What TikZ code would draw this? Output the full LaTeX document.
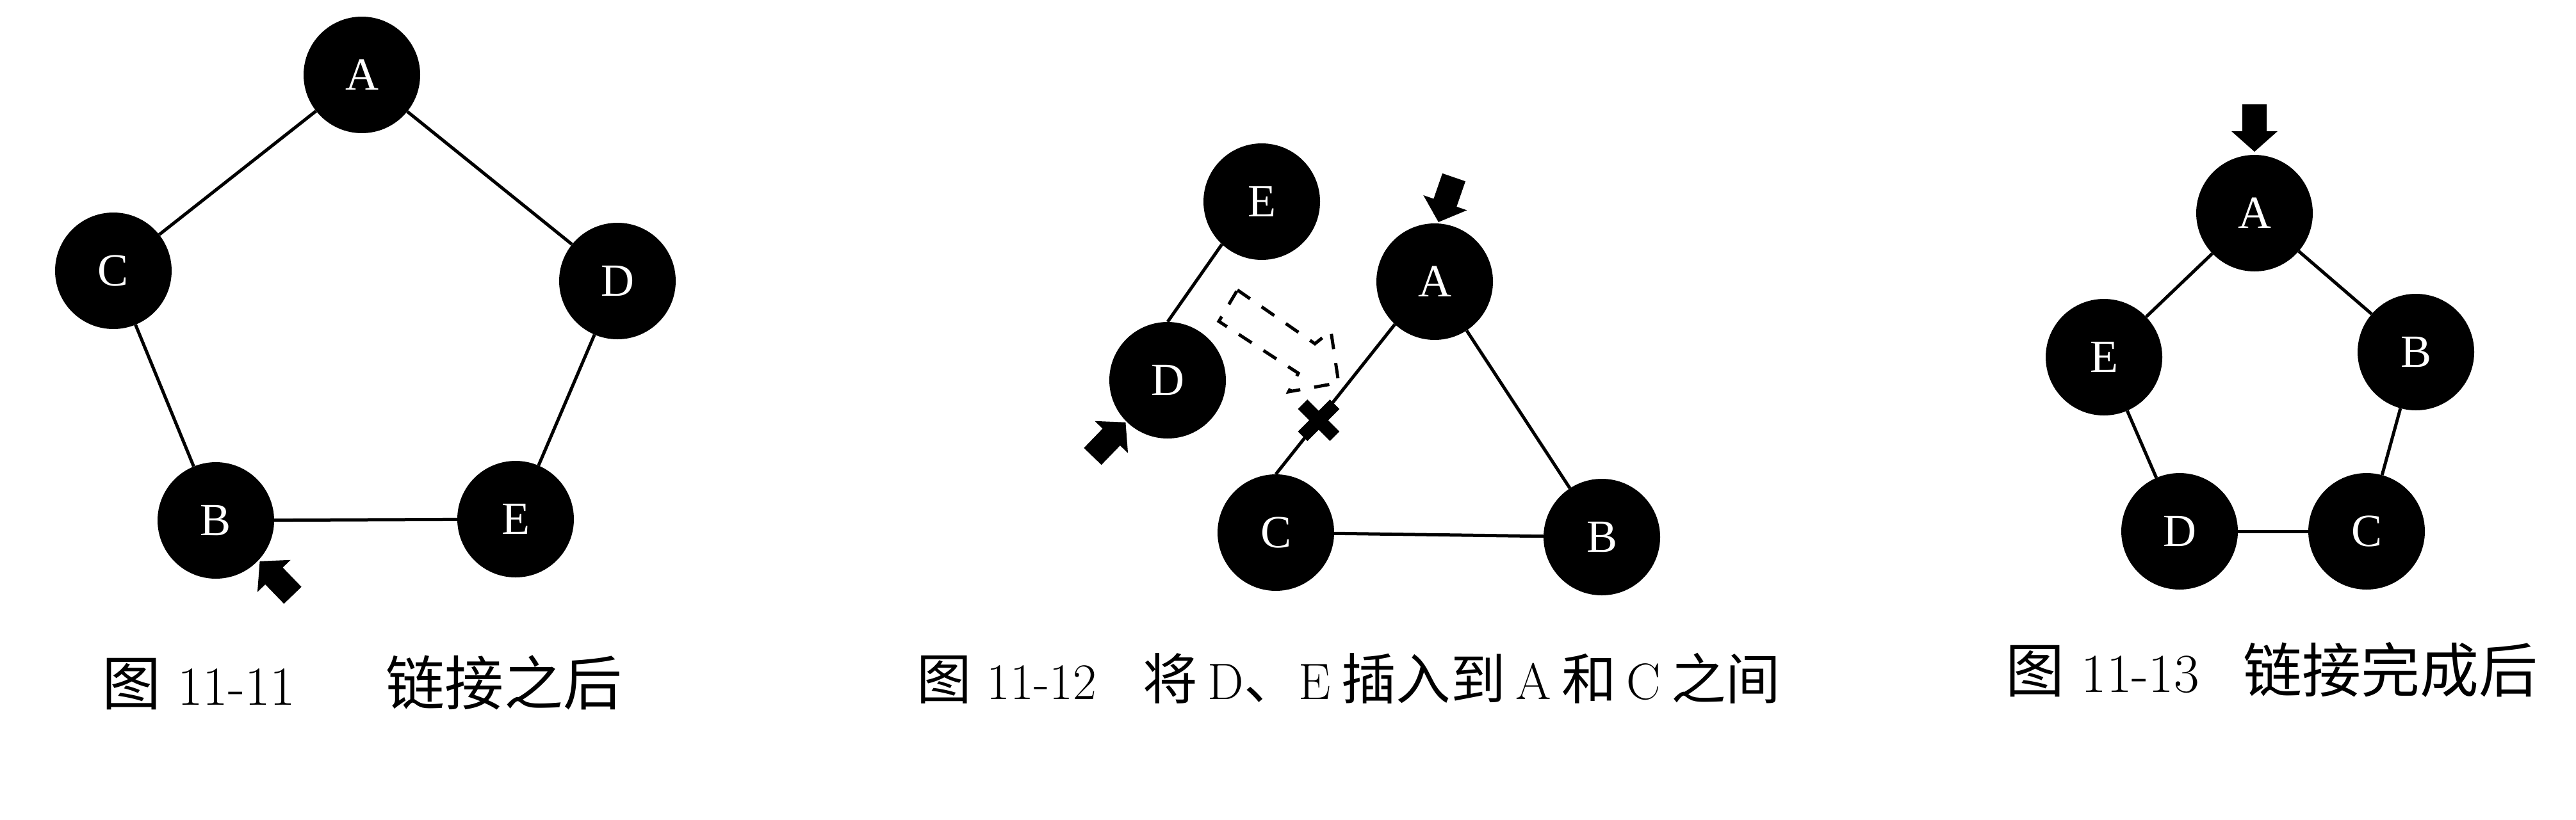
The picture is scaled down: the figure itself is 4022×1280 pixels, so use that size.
\documentclass[tikz,border=0pt]{standalone}
\usepackage{fontspec}
\newfontfamily\cjk[Scale=1.07]{Noto Sans CJK SC}
\newfontfamily\nodefont{Liberation Serif}
\newcommand\blkarrow[2]{\fill[shift={#1}, rotate=#2] (0,-19) -- (42,-19) -- (42,-36) -- (74,0) -- (42,36) -- (42,19) -- (0,19) -- cycle;}
\tikzset{
  nd/.style={circle, fill=black, minimum size=182pt, inner sep=0pt, text=white,
    font=\nodefont\fontsize{72}{72}\selectfont},
  ln/.style={line width=5pt},
  capt/.style={inner sep=0pt, font=\fontsize{86}{90}\selectfont},
  capsmall/.style={inner sep=0pt, font=\fontsize{80}{84}\selectfont},
  ghost/.style={line width=5pt, dash pattern=on 24pt off 22pt, line join=miter},
}
\begin{document}
\begin{tikzpicture}[x=1pt, y=-1pt]
\useasboundingbox (0,0) rectangle (4022,1280);
% ---------- Figure 11-11 ----------
\node[nd] (A1) at (565,117) {A};
\node[nd] (C1) at (177,423) {C};
\node[nd] (D1) at (964,439) {D};
\node[nd] (B1) at (337,813) {B};
\node[nd] (E1) at (805,811) {E};
\draw[ln] (A1) -- (C1);
\draw[ln] (A1) -- (D1);
\draw[ln] (C1) -- (B1);
\draw[ln] (D1) -- (E1);
\draw[ln] (B1) -- (E1);
\blkarrow{(457,930)}{134}
\node[capt, anchor=west] (cap1) at (159,1066) {{\cjk 图} 11-11\hspace{1.65em}{\cjk 链接之后}};
% ---------- Figure 11-12 ----------
\node[nd] (E2) at (1970,315) {E};
\node[nd] (D2) at (1823,594) {D};
\node[nd] (A2) at (2240,440) {A};
\node[nd] (C2) at (1992,832) {C};
\node[nd] (B2) at (2501,839) {B};
\draw[ln] (D2.north) -- (E2.227);
\draw[ln] (C2.north) -- (A2.227) coordinate[pos=0.36] (X);
\draw[ln] (A2) -- (B2);
\draw[ln] (C2) -- (B2);
\draw[line width=21pt, shift={(X)}] (-25,-25) -- (25,25) (-25,25) -- (25,-25);
\draw[ghost] (1932,453) -- (2053,537) -- (2078,517) -- (2090,598) -- (2012,612) -- (2027,583) -- (1903,502) -- cycle;
\blkarrow{(2270,277)}{-109}
\blkarrow{(1706,713)}{46}
\node[capsmall, anchor=west] (cap2) at (1431,1060) {{\cjk 图} 11-12\hspace{0.9em}{\cjk 将}\hspace{0.2em}D{\cjk 、}E\hspace{0.2em}{\cjk 插入到}\hspace{0.2em}A\hspace{0.2em}{\cjk 和}\hspace{0.2em}C\hspace{0.2em}{\cjk 之间}};
% ---------- Figure 11-13 ----------
\node[nd] (A3) at (3520,333) {A};
\node[nd] (E3) at (3285,558) {E};
\node[nd] (B3) at (3772,550) {B};
\node[nd] (D3) at (3403,830) {D};
\node[nd] (C3) at (3695,830) {C};
\draw[ln] (A3) -- (E3);
\draw[ln] (A3) -- (B3);
\draw[ln] (E3) -- (D3);
\draw[ln] (D3) -- (C3);
\draw[ln] (B3) -- (C3);
\blkarrow{(3520,163)}{-90}
\node[capt] (cap3) at (3547,1046) {{\cjk 图} 11-13\hspace{0.8em}{\cjk 链接完成后}};
\end{tikzpicture}
\end{document}
